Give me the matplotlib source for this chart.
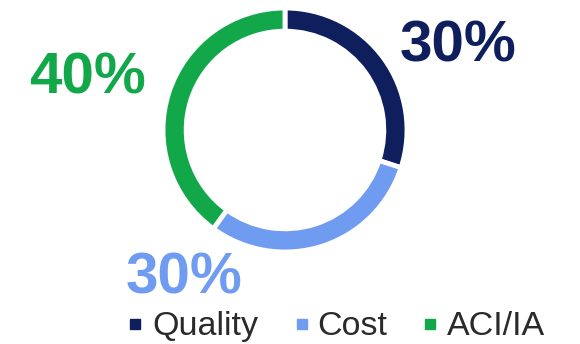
import matplotlib
matplotlib.use("Agg")
import matplotlib.pyplot as plt

categories = ["Quality", "Cost", "ACI/IA"]
values = [30, 30, 40]
labels = ["30%", "30%", "40%"]
colors = ["#0f1f5e", "#6f9bf0", "#12a84a"]

W, H = 580, 344
fig = plt.figure(figsize=(W / 100, H / 100), dpi=100)
fig.patch.set_facecolor("white")

cx, cy, R = 285, 130, 122
ax = fig.add_axes([(cx - R) / W, (H - cy - R) / H, 2 * R / W, 2 * R / H])
ax.pie(values, colors=colors, startangle=90, counterclock=False, radius=1.0,
       wedgeprops=dict(width=0.19, edgecolor="white", linewidth=3.5))
ax.set_xlim(-1, 1)
ax.set_ylim(-1, 1)
ax.set_aspect("equal")
ax.axis("off")

font = "Liberation Sans"
# percentage labels (x center, baseline y in pixels)
label_pos = [(458, 62), (184, 293), (88, 93)]
for (x, y), lab, col in zip(label_pos, labels, colors):
    fig.text(x / W, 1 - y / H, lab, ha="center", va="baseline", fontsize=42,
             fontweight="bold", color=col, family=font)

# legend
marker_x = [135, 302, 430]
text_x = [152, 317, 447]
leg_base = 335
for mx, tx, cat, col in zip(marker_x, text_x, categories, colors):
    fig.patches.append(plt.Rectangle(((mx - 5) / W, 1 - (leg_base - 6) / H), 10 / W, 10 / H,
                                     transform=fig.transFigure, color=col))
    fig.text(tx / W, 1 - leg_base / H, cat, ha="left", va="baseline", fontsize=24.5,
             color="#2a2a2a", family=font)

fig.savefig("out.png", dpi=100, facecolor="white")
